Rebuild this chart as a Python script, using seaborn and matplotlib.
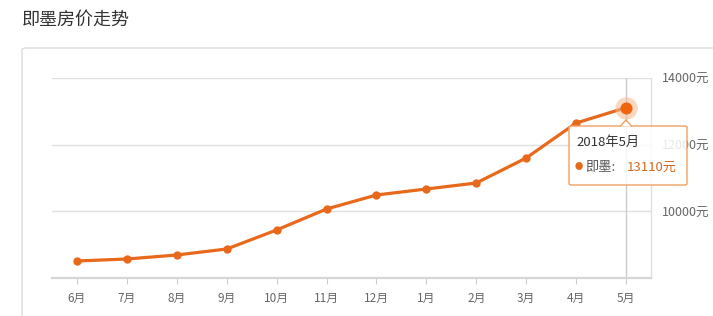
import matplotlib
matplotlib.use("Agg")
import matplotlib.pyplot as plt
import seaborn as sns
import pandas as pd
from matplotlib.patches import FancyBboxPatch, Polygon

months = ["6月", "7月", "8月", "9月", "10月", "11月", "12月", "1月", "2月", "3月", "4月", "5月"]
prices = [8510, 8570, 8690, 8870, 9440, 10070, 10490, 10670, 10850, 11600, 12650, 13110]
ytick_vals = [10000, 12000, 14000]
ytick_labels = ["10000元", "12000元", "14000元"]
title = "即墨房价走势"
tip_date = "2018年5月"
tip_name = "即墨:"
tip_value = "13110元"

sns.set_theme(style="white")
plt.rcParams['font.family'] = ['Noto Sans CJK SC', 'DejaVu Sans']

df = pd.DataFrame({"month": months, "price": prices, "idx": range(len(months))})

W, H = 713, 316
fig = plt.figure(figsize=(W / 100, H / 100), dpi=100)
fig.patch.set_facecolor("white")

def fx(px):
    return px / W

def fy(py):
    return 1 - py / H

# card border
card = FancyBboxPatch((fx(22), fy(330)), fx(720) - fx(22), fy(48) - fy(330),
                      boxstyle="round,pad=0,rounding_size=0.006",
                      transform=fig.transFigure, facecolor="none",
                      edgecolor="#dcdcdc", linewidth=1.0, zorder=-1)
fig.patches.append(card)

fig.text(fx(22), fy(20), title, fontsize=13, color="#333333", va="center", ha="left")

ax = fig.add_axes([fx(52), fy(278), fx(651) - fx(52), fy(78) - fy(278)])
ax.set_facecolor("none")

orange = "#E8691C"
sns.lineplot(data=df, x="idx", y="price", ax=ax, color=orange, linewidth=2.3,
             marker="o", markersize=6, markeredgewidth=0, zorder=5)

ax.set_xlim(-0.5, len(months) - 0.5)
ax.set_ylim(8000, 14000)
ax.set_xticks(range(len(months)))
ax.set_xticklabels(months, fontsize=8.5, color="#666666")
ax.set_yticks(ytick_vals)
ax.set_yticklabels(ytick_labels, fontsize=9, color="#666666")
ax.yaxis.tick_right()
ax.tick_params(axis="y", length=0, pad=8)
ax.tick_params(axis="x", length=4, width=0.8, color="#cccccc", pad=6, bottom=True)
ax.set_xlabel("")
ax.set_ylabel("")

for v in ytick_vals:
    ax.axhline(v, color="#e0e0e0", linewidth=1.0, zorder=1)

ax.spines["left"].set_visible(False)
ax.spines["top"].set_visible(False)
ax.spines["right"].set_color("#e0e0e0")
ax.spines["right"].set_linewidth(1.0)
ax.spines["bottom"].set_color("#d6d6d6")
ax.spines["bottom"].set_linewidth(1.6)

# crosshair at last point
last = len(months) - 1
ax.axvline(last, color="#cccccc", linewidth=1.0, zorder=2)

# highlight last point
ax.scatter([last], [prices[last]], s=260, color="#f6b78c", alpha=0.55, linewidths=0, zorder=6)
ax.scatter([last], [prices[last]], s=75, color="#F0640F", linewidths=0, zorder=7)

# tooltip box (semi-transparent like the reference)
bx0, bx1, by0, by1 = 569, 687, 126, 185
tip = FancyBboxPatch((fx(bx0), fy(by1)), fx(bx1) - fx(bx0), fy(by0) - fy(by1),
                     boxstyle="round,pad=0,rounding_size=0.004",
                     transform=fig.transFigure, facecolor=(1, 1, 1, 0.86),
                     edgecolor="#f0a060", linewidth=1.0, zorder=20)
fig.patches.append(tip)
arrow = Polygon([[fx(620), fy(126.5)], [fx(626), fy(120)], [fx(632), fy(126.5)]],
                closed=False, transform=fig.transFigure, facecolor="white",
                edgecolor="#f0a060", linewidth=1.0, zorder=21)
fig.patches.append(arrow)

fig.text(fx(576), fy(142), tip_date, fontsize=9.5, color="#333333", va="center", ha="left", zorder=22)
fig.text(fx(575), fy(167), "●", fontsize=6, color="#E8691C", va="center", ha="left", zorder=22)
fig.text(fx(585), fy(167), tip_name, fontsize=9.5, color="#555555", va="center", ha="left", zorder=22)
fig.text(fx(627), fy(167), tip_value, fontsize=9.5, color="#D2691E", va="center", ha="left", zorder=22)

fig.savefig("out.png", dpi=100, facecolor="white")
